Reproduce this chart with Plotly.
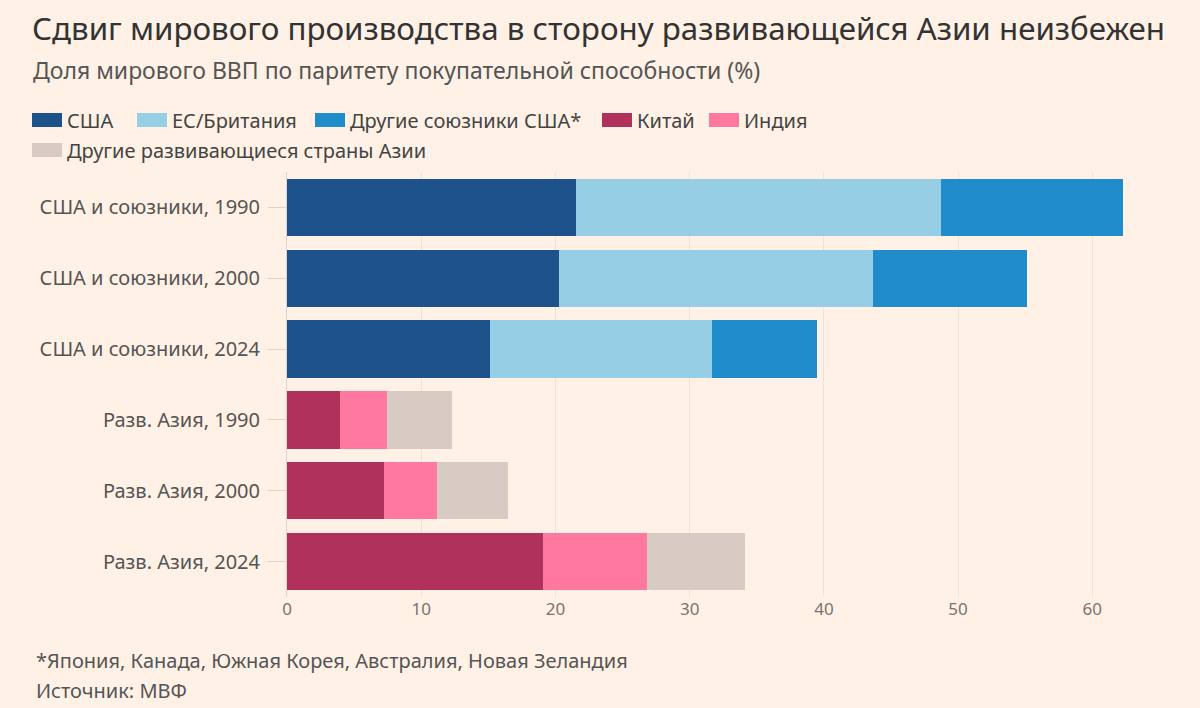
import plotly.graph_objects as go

categories = ["США и союзники, 1990", "США и союзники, 2000", "США и союзники, 2024",
              "Разв. Азия, 1990", "Разв. Азия, 2000", "Разв. Азия, 2024"]

usa = [21.5, 20.25, 15.1, None, None, None]
eu_uk = [27.2, 23.4, 16.55, None, None, None]
other_allies = [13.6, 11.5, 7.85, None, None, None]
china = [None, None, None, 3.95, 7.2, 19.05]
india = [None, None, None, 3.5, 4.0, 7.75]
other_asia = [None, None, None, 4.85, 5.3, 7.3]

series_names = ["США", "ЕС/Британия", "Другие союзники США*", "Китай", "Индия",
                "Другие развивающиеся страны Азии"]
series_values = [usa, eu_uk, other_allies, china, india, other_asia]
series_colors = ["#1E528A", "#96CEE5", "#218CCC", "#B0315C", "#FF78A0", "#D8CBC3"]

x_ticks = [0, 10, 20, 30, 40, 50, 60]

FONT = "Noto Sans"
W, H = 1200, 708
ML, MR, MT, MB = 287, 54, 172, 111
PW, PH = W - ML - MR, H - MT - MB


def px_x(px):
    return (px - ML) / PW


def px_y(py):
    return (H - MB - py) / PH


fig = go.Figure()
for name, vals, color in zip(series_names, series_values, series_colors):
    fig.add_trace(go.Bar(
        y=categories, x=vals, name=name, orientation="h",
        marker=dict(color=color, line=dict(width=0)),
        showlegend=False,
    ))

fig.update_layout(
    barmode="stack",
    bargap=0.19,
    width=W, height=H,
    paper_bgcolor="#FFF1E5",
    plot_bgcolor="#FFF1E5",
    margin=dict(l=ML, r=MR, t=MT, b=MB),
    font=dict(family=FONT, color="#555"),
    showlegend=False,
)

fig.update_xaxes(
    range=[0, 64], tickvals=x_ticks, ticktext=[str(t) for t in x_ticks],
    showgrid=True, gridcolor="#EDE2D8", gridwidth=1,
    zeroline=False, showline=False, ticks="",
    tickfont=dict(size=17, color="#7A7470", family=FONT),
)
fig.update_yaxes(
    categoryorder="array", categoryarray=categories, autorange="reversed",
    showline=True, linecolor="#DDD3CA", linewidth=1,
    ticks="outside", ticklen=18, tickcolor="#DDD3CA", tickwidth=1,
    tickfont=dict(size=20, color="#555", family=FONT),
    ticklabelstandoff=4,
    showgrid=False,
)

# Title, subtitle, notes
texts = [
    ("Сдвиг мирового производства в сторону развивающейся Азии неизбежен", 30, 28, 31.3, "#333"),
    ("Доля мирового ВВП по паритету покупательной способности (%)", 31, 70, 23, "#555"),
    ("*Япония, Канада, Южная Корея, Австралия, Новая Зеландия", 34, 660, 20, "#555"),
    ("Источник: МВФ", 34, 690, 20, "#555"),
]
for t, x, y, s, c in texts:
    fig.add_annotation(
        text=t, xref="paper", yref="paper", x=px_x(x), y=px_y(y),
        xanchor="left", yanchor="middle", showarrow=False,
        font=dict(size=s, color=c, family=FONT),
    )

# Legend (manual, to match wrapping and swatch shape)
legend_pos = [(32, 120), (137, 120), (315, 120), (602, 120), (709, 120), (32, 150)]
for name, color, (lx, ly) in zip(series_names, series_colors, legend_pos):
    fig.add_shape(
        type="rect", xref="paper", yref="paper",
        x0=px_x(lx), x1=px_x(lx + 30), y0=px_y(ly + 7), y1=px_y(ly - 7),
        fillcolor=color, line=dict(width=0),
    )
    fig.add_annotation(
        text=name, xref="paper", yref="paper", x=px_x(lx + 33), y=px_y(ly),
        xanchor="left", yanchor="middle", showarrow=False,
        font=dict(size=20, color="#444", family=FONT),
    )

fig.write_html("out.html")
